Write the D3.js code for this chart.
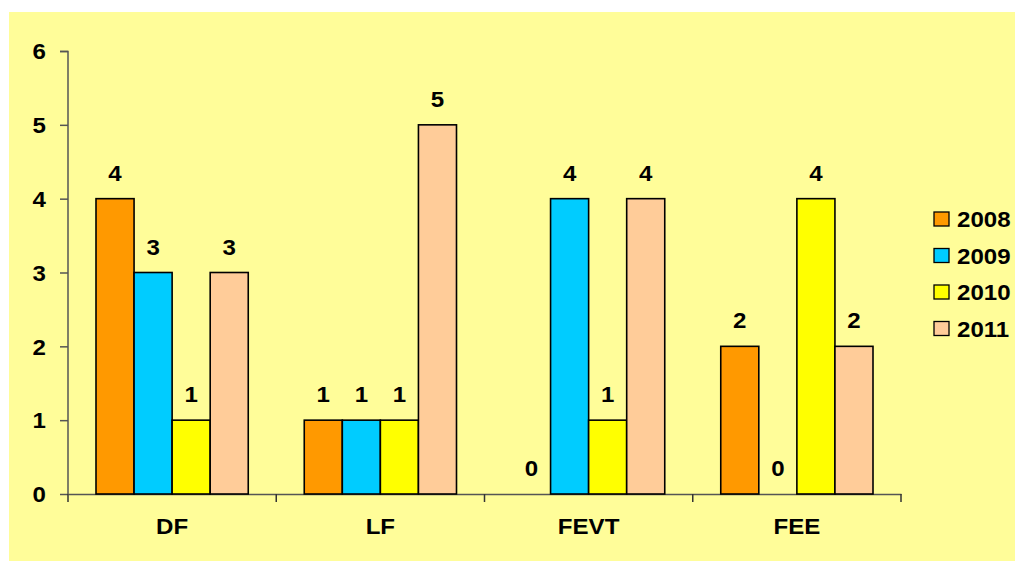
<!DOCTYPE html>
<html>
<head>
<meta charset="utf-8">
<style>
  body { margin: 0; background: #fff; }
  svg text { font-family: "Liberation Sans", Arial, sans-serif; font-weight: bold; fill: #000; }
</style>
</head>
<body>
<svg id="chart" width="1015" height="561"></svg>
<script src="https://d3js.org/d3.v7.min.js"></script>
<script>
  var categories = ["DF", "LF", "FEVT", "FEE"];
  var years = ["2008", "2009", "2010", "2011"];
  var values = {
    "2008": [4, 1, 0, 2],
    "2009": [3, 1, 4, 0],
    "2010": [1, 1, 1, 4],
    "2011": [3, 5, 4, 2]
  };
  var yTicks = [0, 1, 2, 3, 4, 5, 6];
  var colors = ["#FF9900", "#00CCFF", "#FFFF00", "#FFCC99"];

  var FS = "21.5px", SX = 1.12;

  // the original text looks stretched sideways, so move x/y into a transform
  function stretch(sel) {
    sel.each(function() {
      var t = d3.select(this);
      var x = +t.attr("x") || 0, y = +t.attr("y") || 0;
      t.attr("x", 0).attr("y", 0)
        .attr("transform", "translate(" + x + "," + y + ") scale(" + SX + ",1)")
        .style("font-size", FS)
        .style("font-family", "'Liberation Sans', Arial, sans-serif")
        .style("font-weight", "bold")
        .style("fill", "#000");
    });
  }

  var svg = d3.select("#chart");

  svg.append("rect")
    .attr("x", 9).attr("y", 12)
    .attr("width", 1006).attr("height", 549)
    .style("fill", "#FFFD99");

  var x0 = d3.scaleBand().domain(categories).range([68, 901]);
  var x1 = d3.scaleBand().domain(years).range([28, x0.bandwidth() - 28]);
  var y = d3.scaleLinear().domain([0, 6]).range([494, 51]);

  // y axis
  var yAxis = d3.axisLeft(y).tickValues(yTicks).tickSize(8).tickPadding(14).tickFormat(d3.format("d"));
  var ya = svg.append("g").attr("transform", "translate(68,0)").call(yAxis);
  ya.selectAll("path, line").style("stroke", "#555").style("stroke-width", 1.5);
  ya.select(".domain").attr("d", "M-8,51.5H0V494");
  ya.selectAll("text").attr("dy", "0.36em");
  stretch(ya.selectAll("text"));

  // x axis
  var xAxis = d3.axisBottom(x0).tickSize(0).tickPadding(25);
  var xa = svg.append("g").attr("transform", "translate(0,494)").call(xAxis);
  xa.select(".domain").style("stroke", "#555").style("stroke-width", 1.5);
  stretch(xa.selectAll("text"));
  var bounds = categories.map(function(c) { return x0(c); }).concat([x0.range()[1]]);
  xa.selectAll(".bound").data(bounds).enter().append("line")
    .attr("x1", function(d) { return d; }).attr("x2", function(d) { return d; })
    .attr("y1", 0).attr("y2", 8)
    .style("stroke", "#333").style("stroke-width", 1.5);

  // bars + value labels
  years.forEach(function(yr, i) {
    var rows = values[yr].map(function(v, j) { return {cat: categories[j], v: v}; });
    svg.append("g").selectAll("rect").data(rows.filter(function(r) { return r.v > 0; }))
      .enter().append("rect")
      .attr("x", function(r) { return x0(r.cat) + x1(yr); })
      .attr("y", function(r) { return y(r.v); })
      .attr("width", x1.bandwidth())
      .attr("height", function(r) { return y(0) - y(r.v); })
      .style("fill", colors[i])
      .style("stroke", "#000")
      .style("stroke-width", 1.6);

    var lab = svg.append("g").selectAll("text").data(rows)
      .enter().append("text")
      .attr("x", function(r) { return x0(r.cat) + x1(yr) + x1.bandwidth() / 2; })
      .attr("y", function(r) { return y(r.v) - 18; })
      .attr("text-anchor", "middle")
      .text(function(r) { return r.v; });
    stretch(lab);
  });

  // legend
  var leg = svg.append("g").attr("transform", "translate(934,212)");
  years.forEach(function(yr, i) {
    leg.append("rect")
      .attr("x", 0).attr("y", i * 36.5)
      .attr("width", 15).attr("height", 14)
      .style("fill", colors[i]).style("stroke", "#000").style("stroke-width", 1.3);
    var t = leg.append("text")
      .attr("x", 23).attr("y", i * 36.5 + 15)
      .text(yr);
    stretch(t);
  });
</script>
</body>
</html>
